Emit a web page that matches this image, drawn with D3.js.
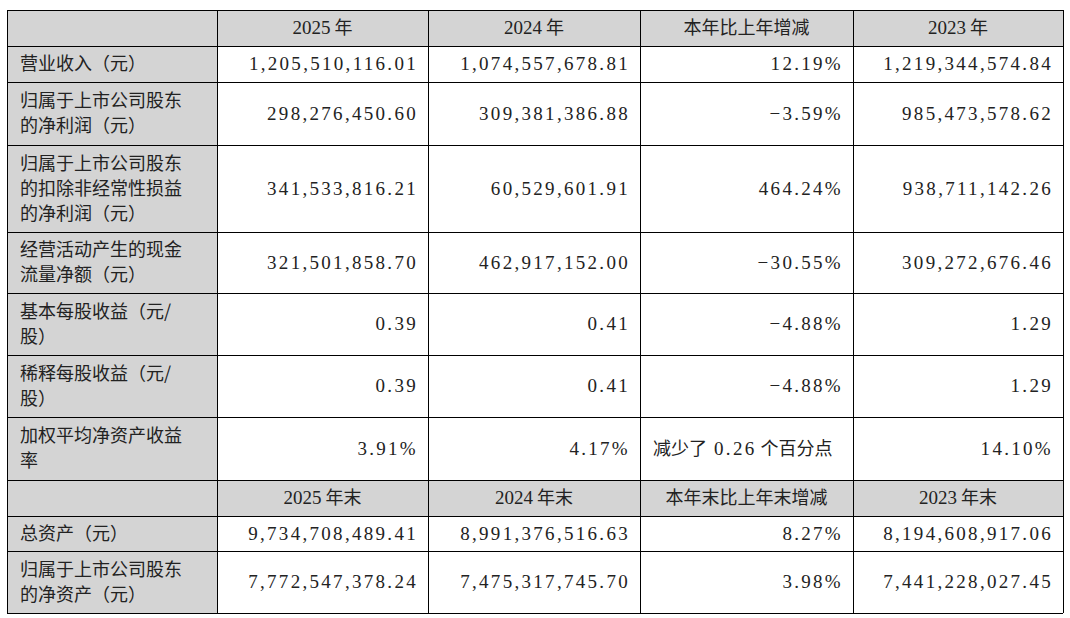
<!DOCTYPE html>
<html><head><meta charset="utf-8">
<script src="https://cdn.jsdelivr.net/npm/d3@7"></script>
<style>body{margin:0;background:#fff}</style>
</head><body>
<svg id="chart" width="1070" height="618"></svg>
<script>
const headers1 = ["", "2025 年", "2024 年", "本年比上年增减", "2023 年"];
const headers2 = ["", "2025 年末", "2024 年末", "本年末比上年末增减", "2023 年末"];
const labels1 = [
  ["营业收入（元）"],
  ["归属于上市公司股东", "的净利润（元）"],
  ["归属于上市公司股东", "的扣除非经常性损益", "的净利润（元）"],
  ["经营活动产生的现金", "流量净额（元）"],
  ["基本每股收益（元/", "股）"],
  ["稀释每股收益（元/", "股）"],
  ["加权平均净资产收益", "率"]
];
const vals2025 = ["1,205,510,116.01", "298,276,450.60", "341,533,816.21", "321,501,858.70", "0.39", "0.39", "3.91%"];
const vals2024 = ["1,074,557,678.81", "309,381,386.88", "60,529,601.91", "462,917,152.00", "0.41", "0.41", "4.17%"];
const valsChg = ["12.19%", "-3.59%", "464.24%", "-30.55%", "-4.88%", "-4.88%", "减少了 0.26 个百分点"];
const vals2023 = ["1,219,344,574.84", "985,473,578.62", "938,711,142.26", "309,272,676.46", "1.29", "1.29", "14.10%"];
const labels2 = [["总资产（元）"], ["归属于上市公司股东", "的净资产（元）"]];
const end2025 = ["9,734,708,489.41", "7,772,547,378.24"];
const end2024 = ["8,991,376,516.63", "7,475,317,745.70"];
const endChg = ["8.27%", "3.98%"];
const end2023 = ["8,194,608,917.06", "7,441,228,027.45"];

const colEdges = [7, 217, 428, 640, 853, 1063];
const rowEdges = [10, 46, 82, 145, 232, 293, 355, 417, 480, 516, 551, 613];

const rows = [{header: true, cells: headers1}];
labels1.forEach((l, i) => rows.push({label: l, cells: [vals2025[i], vals2024[i], valsChg[i], vals2023[i]]}));
rows.push({header: true, cells: headers2});
labels2.forEach((l, i) => rows.push({label: l, cells: [end2025[i], end2024[i], endChg[i], end2023[i]]}));

const svg = d3.select("#chart");
const cjk = "'Noto Sans CJK SC', sans-serif";
const num = "'Liberation Serif', serif";

rows.forEach((r, ri) => {
  const y0 = rowEdges[ri], y1 = rowEdges[ri + 1], cy = (y0 + y1) / 2;
  const g = svg.append("g");
  for (let c = 0; c < 5; c++) {
    const x0 = colEdges[c], x1 = colEdges[c + 1];
    g.append("rect").attr("x", x0).attr("y", y0).attr("width", x1 - x0).attr("height", y1 - y0)
      .attr("fill", (r.header || c === 0) ? "#d4d4d4" : "#fff");
  }
  if (r.header) {
    r.cells.forEach((t, c) => {
      if (!t) return;
      const parts = t.split(" ");
      const txt = g.append("text").attr("x", (colEdges[c] + colEdges[c + 1]) / 2).attr("y", cy + 6)
        .attr("text-anchor", "middle").attr("font-size", 18).attr("fill", "#222");
      parts.forEach((p, k) => {
        const isNum = /^[0-9]/.test(p);
        txt.append("tspan").text((k ? " " : "") + p)
          .attr("font-family", isNum ? num : cjk).attr("font-size", isNum ? 19 : 18);
      });
    });
  } else {
    const n = r.label.length, lh = 25;
    r.label.forEach((l, k) => {
      g.append("text").attr("x", colEdges[0] + 13).attr("y", cy + 6 + (k - (n - 1) / 2) * lh)
        .attr("font-family", cjk).attr("font-size", 18).attr("fill", "#222").text(l);
    });
    r.cells.forEach((t, c) => {
      const x = colEdges[c + 2] - 10;
      const txt = g.append("text").attr("x", x).attr("y", cy + 6).attr("text-anchor", "end")
        .attr("font-size", 19).attr("fill", "#222");
      if (/[\u4e00-\u9fff]/.test(t)) {
        txt.attr("text-anchor", "start").attr("x", colEdges[c + 1] + 13);
        t.split(" ").forEach((p, k) => {
          const isNum = /^[0-9]/.test(p);
          txt.append("tspan").text((k ? " " : "") + p)
            .attr("font-family", isNum ? num : cjk).attr("font-size", isNum ? 19 : 18)
            .attr("letter-spacing", isNum ? 2.3 : 0);
        });
      } else {
        txt.attr("font-family", num).attr("letter-spacing", 2.3).text(t.replace("-", "−"));
      }
    });
  }
});

// grid lines
svg.append("g").selectAll("line.h").data(rowEdges).join("line")
  .attr("x1", colEdges[0]).attr("x2", colEdges[5]).attr("y1", d => d + 0.5).attr("y2", d => d + 0.5)
  .attr("stroke", "#000").attr("stroke-width", 1);
svg.append("g").selectAll("line.v").data(colEdges).join("line")
  .attr("y1", rowEdges[0]).attr("y2", rowEdges[rowEdges.length - 1]).attr("x1", d => d + 0.5).attr("x2", d => d + 0.5)
  .attr("stroke", "#000").attr("stroke-width", 1);
</script>
</body></html>
